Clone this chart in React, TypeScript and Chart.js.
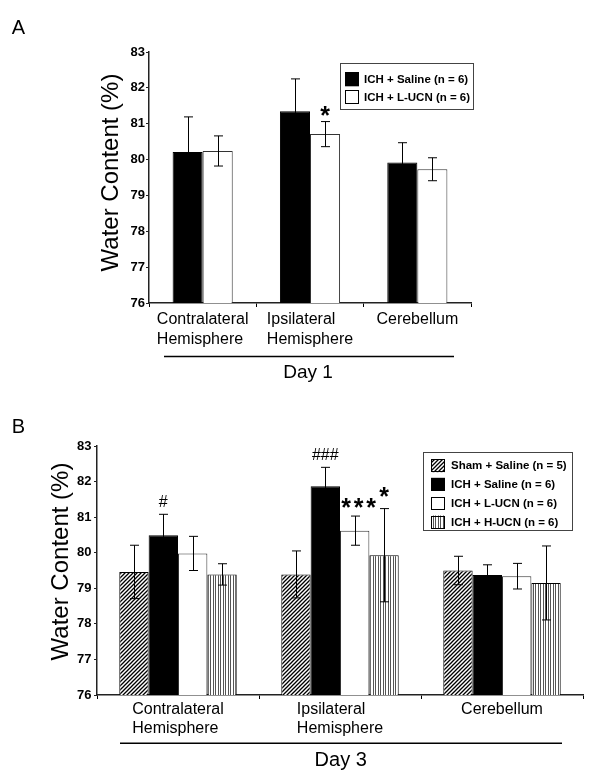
import React, { useEffect, useRef } from 'react';
import { Chart, registerables } from 'chart.js';

Chart.register(...registerables);

// ---------- data ----------
const regions: string[][] = [['Contralateral', 'Hemisphere'], ['Ipsilateral', 'Hemisphere'], ['Cerebellum']];
const yTicks = [76, 77, 78, 79, 80, 81, 82, 83];
const yTitle = 'Water Content (%)';

// Panel A (Day 1)
const dayA = 'Day 1';
const aSalineMean = [80.21, 81.35, 79.92];
const aSalineErr = [0.98, 0.9, 0.55];
const aLucnMean = [80.24, 80.71, 79.73];
const aLucnErr = [0.42, 0.35, 0.32];
const aSalineMarks = ['', '', ''];
const aLucnMarks = ['', '*', ''];

// Panel B (Day 3)
const dayB = 'Day 3';
const bShamMean = [79.46, 79.39, 79.5];
const bShamErr = [0.75, 0.66, 0.4];
const bSalineMean = [80.49, 81.87, 79.37];
const bSalineErr = [0.59, 0.53, 0.29];
const bLucnMean = [79.98, 80.62, 79.34];
const bLucnErr = [0.48, 0.41, 0.36];
const bHucnMean = [79.39, 79.93, 79.15];
const bHucnErr = [0.3, 1.31, 1.04];
const bShamMarks = ['', '', ''];
const bSalineMarks = ['#', '###', ''];
const bLucnMarks = ['', '***', ''];
const bHucnMarks = ['', '*', ''];

const labelSham = 'Sham + Saline (n = 5)';
const labelSaline = 'ICH + Saline (n = 6)';
const labelLucn = 'ICH + L-UCN (n = 6)';
const labelHucn = 'ICH + H-UCN (n = 6)';

// ---------- styles ----------
const FONT = '"Liberation Sans", Arial, Helvetica, sans-serif';

type Series = { label: string; mean: number[]; err: number[]; fill: string; marks: string[] };

type PanelSpec = {
  letter: string;
  day: string;
  height: number;
  area: { left: number; right: number; top: number; bottom: number };
  catPct: number;
  series: Series[];
  tickPadY: number;
  catBase: number;
  catStep: number;
  yTitlePos: [number, number];
  letterPos: [number, number];
  dayLine: [number, number, number];
  dayPos: [number, number];
  dayFont: number;
  legendBox: [number, number, number, number];
  legendRows: number[];
  legendSwatchX: number;
  legendSwatch: [number, number];
  legendTextX: number;
  markGap: number;
};

function makePattern(kind: string): CanvasPattern | string {
  if (kind === 'black') return '#000000';
  if (kind === 'white') return '#ffffff';
  const c = document.createElement('canvas');
  const ctx = c.getContext('2d')!;
  if (kind === 'diag') {
    const s = 4;
    c.width = s; c.height = s;
    ctx.fillStyle = '#fff';
    ctx.fillRect(0, 0, s, s);
    ctx.strokeStyle = '#000';
    ctx.lineWidth = 1.3;
    ctx.beginPath();
    ctx.moveTo(-1, s + 1); ctx.lineTo(s + 1, -1);
    ctx.moveTo(-1, 1); ctx.lineTo(1, -1);
    ctx.moveTo(s - 1, s + 1); ctx.lineTo(s + 1, s - 1);
    ctx.stroke();
  } else {
    c.width = 5; c.height = 5;
    ctx.fillStyle = '#fff';
    ctx.fillRect(0, 0, 5, 5);
    ctx.fillStyle = '#555';
    ctx.fillRect(0, 0, 1, 5);
    ctx.fillRect(3, 0, 1, 5);
  }
  return ctx.createPattern(c, 'repeat')!;
}

function textCentered(ctx: CanvasRenderingContext2D, text: string, x: number, y: number, font: string) {
  ctx.font = font;
  const m = ctx.measureText(text);
  ctx.textAlign = 'center';
  ctx.textBaseline = 'alphabetic';
  ctx.fillText(text, x, y + (m.actualBoundingBoxAscent - m.actualBoundingBoxDescent) / 2);
}

function buildChart(canvas: HTMLCanvasElement, spec: PanelSpec) {
  const fills = spec.series.map((s) => makePattern(s.fill));
  const W = 600;
  const H = spec.height;

  const overlay = {
    id: 'overlay',
    afterDatasetsDraw(chart: any) {
      const ctx: CanvasRenderingContext2D = chart.ctx;
      const y = chart.scales.y;
      ctx.save();
      ctx.strokeStyle = '#000';
      ctx.lineWidth = 1;
      spec.series.forEach((s, di) => {
        const meta = chart.getDatasetMeta(di);
        meta.data.forEach((bar: any, i: number) => {
          const x = Math.round(bar.x) + 0.5;
          const top = y.getPixelForValue(s.mean[i] + s.err[i]);
          const bot = y.getPixelForValue(s.mean[i] - s.err[i]);
          ctx.beginPath();
          ctx.moveTo(x, top); ctx.lineTo(x, bot);
          ctx.moveTo(x - 4.5, top); ctx.lineTo(x + 4.5, top);
          ctx.moveTo(x - 4.5, bot); ctx.lineTo(x + 4.5, bot);
          ctx.stroke();
        });
      });
      ctx.restore();
    },
    afterDraw(chart: any) {
      const ctx: CanvasRenderingContext2D = chart.ctx;
      const y = chart.scales.y;
      const xs = chart.scales.x;
      ctx.save();
      ctx.fillStyle = '#000';
      // category labels (left-aligned block, centered under category)
      ctx.font = `16px ${FONT}`;
      regions.forEach((lines, i) => {
        const cx = xs.getPixelForValue(i);
        const maxW = Math.max(...lines.map((l) => ctx.measureText(l).width));
        ctx.textAlign = 'left';
        ctx.textBaseline = 'alphabetic';
        lines.forEach((l, k) => {
          ctx.fillText(l, cx - maxW / 2, chart.chartArea.bottom + spec.catBase + k * spec.catStep);
        });
      });
      // significance marks
      spec.series.forEach((s, di) => {
        const meta = chart.getDatasetMeta(di);
        meta.data.forEach((bar: any, i: number) => {
          const mk = s.marks[i];
          if (!mk) return;
          const top = y.getPixelForValue(s.mean[i] + s.err[i]);
          const cy = top - spec.markGap - (mk === '*' && s.fill === 'vert' ? 4 : 0);
          if (mk[0] === '*') {
            const n = mk.length;
            const step = 12.5;
            const cx0 = bar.x + (n > 1 ? 4 : 0) - ((n - 1) * step) / 2;
            for (let k = 0; k < n; k++) textCentered(ctx, '*', cx0 + k * step, cy, `bold 25px ${FONT}`);
          } else {
            textCentered(ctx, mk, bar.x, cy, `16px ${FONT}`);
          }
        });
      });
      // legend
      const [lx0, ly0, lx1, ly1] = spec.legendBox;
      ctx.strokeStyle = '#444';
      ctx.lineWidth = 1;
      ctx.strokeRect(lx0 + 0.5, ly0 + 0.5, lx1 - lx0, ly1 - ly0);
      spec.series.forEach((s, di) => {
        const cy = spec.legendRows[di];
        const [sw, sh] = spec.legendSwatch;
        ctx.fillStyle = fills[di] as any;
        ctx.fillRect(spec.legendSwatchX, cy - sh / 2, sw, sh);
        ctx.strokeStyle = '#000';
        ctx.strokeRect(spec.legendSwatchX + 0.5, Math.round(cy - sh / 2) + 0.5, sw - 1, sh - 1);
        ctx.fillStyle = '#000';
        ctx.font = `bold 11.5px ${FONT}`;
        ctx.textAlign = 'left';
        ctx.textBaseline = 'middle';
        ctx.fillText(s.label, spec.legendTextX, cy + 0.5);
      });
      // day line + label
      const [dx0, dx1, dy] = spec.dayLine;
      ctx.strokeStyle = '#000';
      ctx.lineWidth = 1.5;
      ctx.beginPath();
      ctx.moveTo(dx0, dy); ctx.lineTo(dx1, dy);
      ctx.stroke();
      ctx.fillStyle = '#000';
      ctx.font = `${spec.dayFont}px ${FONT}`;
      ctx.textAlign = 'center';
      ctx.textBaseline = 'alphabetic';
      ctx.fillText(spec.day, spec.dayPos[0], spec.dayPos[1]);
      // panel letter
      textCentered(ctx, spec.letter, spec.letterPos[0], spec.letterPos[1], `20px ${FONT}`);
      // y title
      ctx.save();
      ctx.translate(spec.yTitlePos[0], spec.yTitlePos[1]);
      ctx.rotate(-Math.PI / 2);
      ctx.font = `24px ${FONT}`;
      ctx.textAlign = 'center';
      ctx.textBaseline = 'middle';
      ctx.fillText(yTitle, 0, 0);
      ctx.restore();
      ctx.restore();
    },
  };

  return new Chart(canvas, {
    type: 'bar',
    data: {
      labels: regions,
      datasets: spec.series.map((s, di) => ({
        label: s.label,
        data: s.mean,
        backgroundColor: fills[di] as any,
        borderColor: s.fill === 'white' ? '#333' : '#000',
        borderWidth: 1,
        borderSkipped: 'bottom',
        categoryPercentage: spec.catPct,
        barPercentage: 1,
      })),
    },
    options: {
      responsive: false,
      animation: false,
      devicePixelRatio: 1,
      layout: {
        padding: { left: 0, top: spec.area.top, right: W - spec.area.right, bottom: 0 },
      },
      plugins: { legend: { display: false }, tooltip: { enabled: false }, title: { display: false } },
      scales: {
        x: {
          offset: true,
          grid: {
            offset: true,
            drawOnChartArea: false,
            drawTicks: true,
            tickLength: 4,
            color: '#000',
            lineWidth: 1,
          },
          border: { display: true, color: '#222', width: 1.5 },
          ticks: { display: false },
          afterFit: (scale: any) => {
            scale.height = H - spec.area.bottom;
          },
        },
        y: {
          min: yTicks[0],
          max: yTicks[yTicks.length - 1],
          afterBuildTicks: (scale: any) => {
            scale.ticks = yTicks.map((v) => ({ value: v }));
          },
          grid: { drawOnChartArea: false, drawTicks: true, tickLength: 3, color: '#222' },
          border: { display: true, color: '#222', width: 1.5 },
          ticks: {
            color: '#000',
            padding: spec.tickPadY,
            font: { family: FONT, size: 13, weight: 'bold' },
          },
          afterFit: (scale: any) => {
            scale.width = spec.area.left;
          },
        },
      },
    },
    plugins: [overlay],
  } as any);
}

const panelA: PanelSpec = {
  letter: 'A',
  day: dayA,
  height: 390,
  area: { left: 149, right: 471, top: 52, bottom: 303 },
  catPct: 0.56,
  series: [
    { label: labelSaline, mean: aSalineMean, err: aSalineErr, fill: 'black', marks: aSalineMarks },
    { label: labelLucn, mean: aLucnMean, err: aLucnErr, fill: 'white', marks: aLucnMarks },
  ],
  tickPadY: 1,
  catBase: 21.3,
  catStep: 20,
  yTitlePos: [111.5, 172.5],
  letterPos: [18.5, 27],
  dayLine: [164, 454, 356.5],
  dayPos: [308, 378.3],
  dayFont: 19,
  legendBox: [340, 63, 473, 109],
  legendRows: [79.3, 97.3],
  legendSwatchX: 345,
  legendSwatch: [14, 14],
  legendTextX: 364,
  markGap: 10.5,
};

const panelB: PanelSpec = {
  letter: 'B',
  day: dayB,
  height: 389,
  area: { left: 97, right: 583, top: 56, bottom: 305 },
  catPct: 0.725,
  series: [
    { label: labelSham, mean: bShamMean, err: bShamErr, fill: 'diag', marks: bShamMarks },
    { label: labelSaline, mean: bSalineMean, err: bSalineErr, fill: 'black', marks: bSalineMarks },
    { label: labelLucn, mean: bLucnMean, err: bLucnErr, fill: 'white', marks: bLucnMarks },
    { label: labelHucn, mean: bHucnMean, err: bHucnErr, fill: 'vert', marks: bHucnMarks },
  ],
  tickPadY: 2.5,
  catBase: 19.3,
  catStep: 19,
  yTitlePos: [61.5, 171.5],
  letterPos: [18.5, 35.7],
  dayLine: [120, 562, 353.3],
  dayPos: [340.7, 376],
  dayFont: 20,
  legendBox: [423, 62, 572, 140],
  legendRows: [75.7, 94.3, 113, 132],
  legendSwatchX: 431,
  legendSwatch: [14, 13],
  legendTextX: 451,
  markGap: 13,
};

function Panel({ spec, top }: { spec: PanelSpec; top: number }) {
  const ref = useRef<HTMLCanvasElement | null>(null);
  useEffect(() => {
    if (!ref.current) return;
    const chart = buildChart(ref.current, spec);
    return () => chart.destroy();
  }, [spec]);
  return (
    <canvas
      ref={ref}
      width={600}
      height={spec.height}
      style={{ position: 'absolute', left: 0, top, width: 600, height: spec.height, display: 'block' }}
    />
  );
}

export default function App() {
  useEffect(() => {
    document.body.style.margin = '0';
  }, []);
  return (
    <div style={{ position: 'absolute', left: 0, top: 0, width: 600, height: 779, background: '#fff' }}>
      <Panel spec={panelA} top={0} />
      <Panel spec={panelB} top={390} />
    </div>
  );
}
